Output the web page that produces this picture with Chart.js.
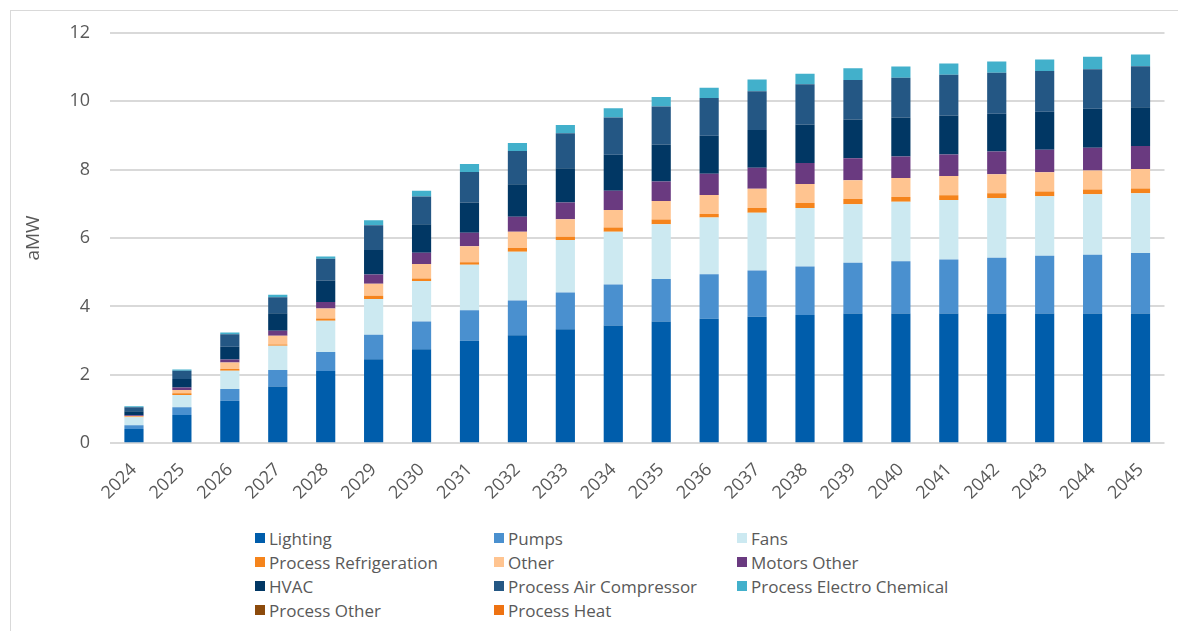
<!DOCTYPE html>
<html>
<head>
<meta charset="utf-8">
<script src="https://cdn.jsdelivr.net/npm/chart.js@4.4.1/dist/chart.umd.min.js"></script>
<style>
  html, body { margin: 0; padding: 0; background: #fff; overflow: hidden; }
  body { width: 1178px; height: 631px; position: relative; font-family: "Open Sans", sans-serif; }
  .frame { position: absolute; left: 10px; top: 10px; width: 1200px; height: 700px; border: 1px solid #d9d9d9; }
  .plot { position: absolute; left: 0; top: 0; width: 1178px; height: 510px; }
  #legend { position: absolute; left: 255px; top: 526px; display: grid;
    grid-template-columns: 239px 243px 250px; grid-auto-rows: 24px; }
  #legend .item { display: flex; align-items: center; font-size: 17px; color: #595959; white-space: nowrap; }
  #legend .box { width: 10px; height: 10px; margin-right: 4px; flex: none; }
</style>
</head>
<body>
<div class="frame"></div>
<div class="plot"><canvas id="chart"></canvas></div>
<div id="legend"></div>
<script>
const years = ['2024', '2025', '2026', '2027', '2028', '2029', '2030', '2031', '2032', '2033', '2034',
  '2035', '2036', '2037', '2038', '2039', '2040', '2041', '2042', '2043', '2044', '2045'];

// aMW by end use, stacked bottom to top in this order
const lighting = [0.42, 0.83, 1.24, 1.66, 2.11, 2.46, 2.75, 3.00, 3.16, 3.33, 3.44, 3.56, 3.64, 3.70, 3.75, 3.79, 3.79, 3.79, 3.79, 3.79, 3.79, 3.79];
const pumps = [0.11, 0.22, 0.35, 0.48, 0.56, 0.71, 0.81, 0.89, 1.01, 1.08, 1.20, 1.24, 1.30, 1.35, 1.42, 1.49, 1.53, 1.58, 1.63, 1.69, 1.72, 1.77];
const fans = [0.23, 0.36, 0.53, 0.71, 0.91, 1.05, 1.18, 1.33, 1.43, 1.53, 1.54, 1.60, 1.66, 1.69, 1.71, 1.71, 1.74, 1.74, 1.75, 1.74, 1.77, 1.75];
const processRefrigeration = [0.02, 0.05, 0.05, 0.04, 0.07, 0.09, 0.08, 0.07, 0.11, 0.10, 0.13, 0.14, 0.10, 0.14, 0.14, 0.15, 0.14, 0.14, 0.14, 0.14, 0.14, 0.14];
const other = [0.02, 0.10, 0.19, 0.25, 0.29, 0.35, 0.42, 0.47, 0.47, 0.51, 0.51, 0.54, 0.56, 0.56, 0.56, 0.55, 0.55, 0.56, 0.55, 0.56, 0.55, 0.57];
const motorsOther = [0.02, 0.07, 0.09, 0.15, 0.19, 0.27, 0.33, 0.39, 0.44, 0.49, 0.56, 0.57, 0.62, 0.61, 0.61, 0.64, 0.63, 0.63, 0.67, 0.66, 0.67, 0.67];
const hvac = [0.12, 0.25, 0.37, 0.51, 0.63, 0.72, 0.83, 0.89, 0.95, 1.00, 1.05, 1.08, 1.11, 1.11, 1.13, 1.13, 1.14, 1.14, 1.10, 1.11, 1.14, 1.13];
const processAirCompressor = [0.11, 0.24, 0.37, 0.47, 0.63, 0.72, 0.81, 0.89, 0.97, 1.02, 1.09, 1.11, 1.10, 1.13, 1.17, 1.16, 1.16, 1.19, 1.20, 1.19, 1.15, 1.20];
const processElectroChemical = [0.03, 0.04, 0.05, 0.07, 0.07, 0.15, 0.17, 0.23, 0.24, 0.24, 0.27, 0.28, 0.30, 0.34, 0.31, 0.34, 0.33, 0.33, 0.33, 0.34, 0.37, 0.34];
const processOther = [0, 0, 0, 0, 0, 0, 0, 0, 0, 0, 0, 0, 0, 0, 0, 0, 0, 0, 0, 0, 0, 0];
const processHeat = [0, 0, 0, 0, 0, 0, 0, 0, 0, 0, 0, 0, 0, 0, 0, 0, 0, 0, 0, 0, 0, 0];

const yTicks = [0, 2, 4, 6, 8, 10, 12];

const series = [
  ['Lighting', lighting, '#005dab'],
  ['Pumps', pumps, '#4a90cf'],
  ['Fans', fans, '#cce9f1'],
  ['Process Refrigeration', processRefrigeration, '#f5841c'],
  ['Other', other, '#ffc490'],
  ['Motors Other', motorsOther, '#6a3a80'],
  ['HVAC', hvac, '#013764'],
  ['Process Air Compressor', processAirCompressor, '#245784'],
  ['Process Electro Chemical', processElectroChemical, '#42b0cb'],
  ['Process Other', processOther, '#8c4a0c'],
  ['Process Heat', processHeat, '#ee7212']
];

const textGrey = '#595959';

const chart = new Chart(document.getElementById('chart'), {
  type: 'bar',
  data: {
    labels: years,
    datasets: series.map(([label, data, color]) => ({
      label, data,
      backgroundColor: color,
      borderWidth: 0,
      barPercentage: 0.8,
      categoryPercentage: 0.5
    }))
  },
  options: {
    responsive: true,
    maintainAspectRatio: false,
    animation: false,
    layout: { padding: { left: 0, right: 13.5, top: 32.7, bottom: 0 } },
    plugins: {
      legend: { display: false },
      tooltip: { enabled: false }
    },
    scales: {
      x: {
        stacked: true,
        grid: { display: false },
        border: { display: false },
        ticks: {
          autoSkip: false, minRotation: 45, maxRotation: 45, padding: 8,
          color: textGrey, font: { family: 'Open Sans', size: 18 }
        },
        afterFit: (scale) => { scale.height = 66.7; }
      },
      y: {
        stacked: true,
        min: 0, max: 12,
        afterBuildTicks: (scale) => { scale.ticks = yTicks.map(v => ({ value: v })); },
        grid: { color: '#d9d9d9', lineWidth: 2, drawTicks: false },
        border: { display: false },
        ticks: { padding: 20, color: textGrey, font: { family: 'Open Sans', size: 18 } },
        title: {
          display: true, text: 'aMW', color: textGrey,
          font: { family: 'Open Sans', size: 19 },
          padding: { top: 22, bottom: 0 }
        },
        afterFit: (scale) => { scale.width = 110; }
      }
    }
  }
});

// legend in three columns, same order as the stack
const legendEl = document.getElementById('legend');
chart.data.datasets.forEach(ds => {
  const item = document.createElement('div');
  item.className = 'item';
  const box = document.createElement('span');
  box.className = 'box';
  box.style.background = ds.backgroundColor;
  item.appendChild(box);
  item.appendChild(document.createTextNode(ds.label));
  legendEl.appendChild(item);
});
</script>
</body>
</html>
